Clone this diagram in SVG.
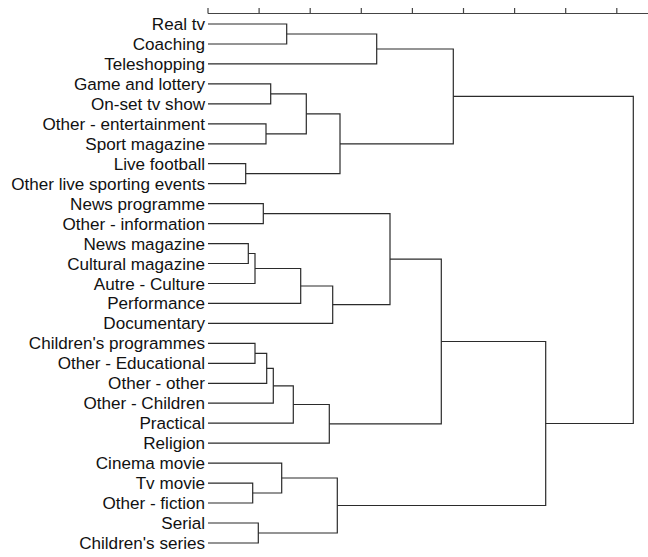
<svg xmlns="http://www.w3.org/2000/svg" width="648" height="557" viewBox="0 0 648 557">
  <style>
    .lbl { font-family: "Liberation Sans", Arial, sans-serif; font-size: 17.1px; fill: #111; text-anchor: end; }
    .ln { fill: none; stroke: #2b2b2b; stroke-width: 1.2; }
    .ax { fill: none; stroke: #444; stroke-width: 1.2; }
  </style>
  <rect width="648" height="557" fill="#fff"/>

  <!-- distance axis -->
  <g id="axis" class="ax">
    <path d="M208 13.5 H648"/>
    <path d="M208 8 V13.5 M259.1 8 V13.5 M310.2 8 V13.5 M361.3 8 V13.5 M412.4 8 V13.5 M463.5 8 V13.5 M514.6 8 V13.5 M565.7 8 V13.5 M616.8 8 V13.5"/>
  </g>

  <!-- leaves -->
  <g id="leaf-real-tv"><text class="lbl" x="205" y="30">Real tv</text></g>
  <g id="leaf-coaching"><text class="lbl" x="205" y="50">Coaching</text></g>
  <g id="leaf-teleshopping"><text class="lbl" x="205" y="69.9">Teleshopping</text></g>
  <g id="leaf-game-lottery"><text class="lbl" x="205" y="89.9">Game and lottery</text></g>
  <g id="leaf-onset-show"><text class="lbl" x="205" y="109.8">On-set tv show</text></g>
  <g id="leaf-other-entertainment"><text class="lbl" x="205" y="129.8">Other - entertainment</text></g>
  <g id="leaf-sport-magazine"><text class="lbl" x="205" y="149.8">Sport magazine</text></g>
  <g id="leaf-live-football"><text class="lbl" x="205" y="169.7">Live football</text></g>
  <g id="leaf-other-live-sport"><text class="lbl" x="205" y="189.7">Other live sporting events</text></g>
  <g id="leaf-news-programme"><text class="lbl" x="205" y="209.6">News programme</text></g>
  <g id="leaf-other-information"><text class="lbl" x="205" y="229.6">Other - information</text></g>
  <g id="leaf-news-magazine"><text class="lbl" x="205" y="249.6">News magazine</text></g>
  <g id="leaf-cultural-magazine"><text class="lbl" x="205" y="269.5">Cultural magazine</text></g>
  <g id="leaf-autre-culture"><text class="lbl" x="205" y="289.5">Autre - Culture</text></g>
  <g id="leaf-performance"><text class="lbl" x="205" y="309.4">Performance</text></g>
  <g id="leaf-documentary"><text class="lbl" x="205" y="329.4">Documentary</text></g>
  <g id="leaf-childrens-programmes"><text class="lbl" x="205" y="349.4">Children's programmes</text></g>
  <g id="leaf-other-educational"><text class="lbl" x="205" y="369.3">Other - Educational</text></g>
  <g id="leaf-other-other"><text class="lbl" x="205" y="389.3">Other - other</text></g>
  <g id="leaf-other-children"><text class="lbl" x="205" y="409.2">Other - Children</text></g>
  <g id="leaf-practical"><text class="lbl" x="205" y="429.2">Practical</text></g>
  <g id="leaf-religion"><text class="lbl" x="205" y="449.2">Religion</text></g>
  <g id="leaf-cinema-movie"><text class="lbl" x="205" y="469.1">Cinema movie</text></g>
  <g id="leaf-tv-movie"><text class="lbl" x="205" y="489.1">Tv movie</text></g>
  <g id="leaf-other-fiction"><text class="lbl" x="205" y="509">Other - fiction</text></g>
  <g id="leaf-serial"><text class="lbl" x="205" y="529">Serial</text></g>
  <g id="leaf-childrens-series"><text class="lbl" x="205" y="549">Children's series</text></g>

  <!-- merge links: child -> join height -> child -->
  <g id="connectors" class="ln">
    <path d="M208 24 H286.7 V44 H208"/>
    <path d="M286.7 34 H376.7 V63.9 H208"/>
    <path d="M208 83.9 H270.7 V103.8 H208"/>
    <path d="M208 123.8 H266 V143.8 H208"/>
    <path d="M270.7 93.9 H306.3 V133.8 H266"/>
    <path d="M208 163.7 H245.7 V183.7 H208"/>
    <path d="M306.3 113.8 H340 V173.7 H245.7"/>
    <path d="M376.7 49 H453.3 V143.8 H340"/>

    <path d="M208 203.6 H263.3 V223.6 H208"/>
    <path d="M208 243.6 H248.3 V263.5 H208"/>
    <path d="M248.3 253.5 H255 V283.5 H208"/>
    <path d="M255 268.5 H300.7 V303.4 H208"/>
    <path d="M300.7 286 H332.7 V323.4 H208"/>
    <path d="M263.3 213.6 H390 V304.7 H332.7"/>

    <path d="M208 343.4 H255 V363.3 H208"/>
    <path d="M255 353.4 H266.7 V383.3 H208"/>
    <path d="M266.7 368.3 H273.3 V403.2 H208"/>
    <path d="M273.3 385.8 H293.3 V423.2 H208"/>
    <path d="M293.3 404.5 H329.3 V443.2 H208"/>
    <path d="M390 259.1 H441.3 V423.8 H329.3"/>

    <path d="M208 483.1 H252.7 V503 H208"/>
    <path d="M208 463.1 H281.7 V493 H252.7"/>
    <path d="M208 523 H258.3 V543 H208"/>
    <path d="M281.7 478 H337.3 V533 H258.3"/>
    <path d="M441.3 341.5 H545.7 V505.5 H337.3"/>

    <path d="M453.3 96.4 H633.3 V423.5 H545.7"/>
  </g>
</svg>
